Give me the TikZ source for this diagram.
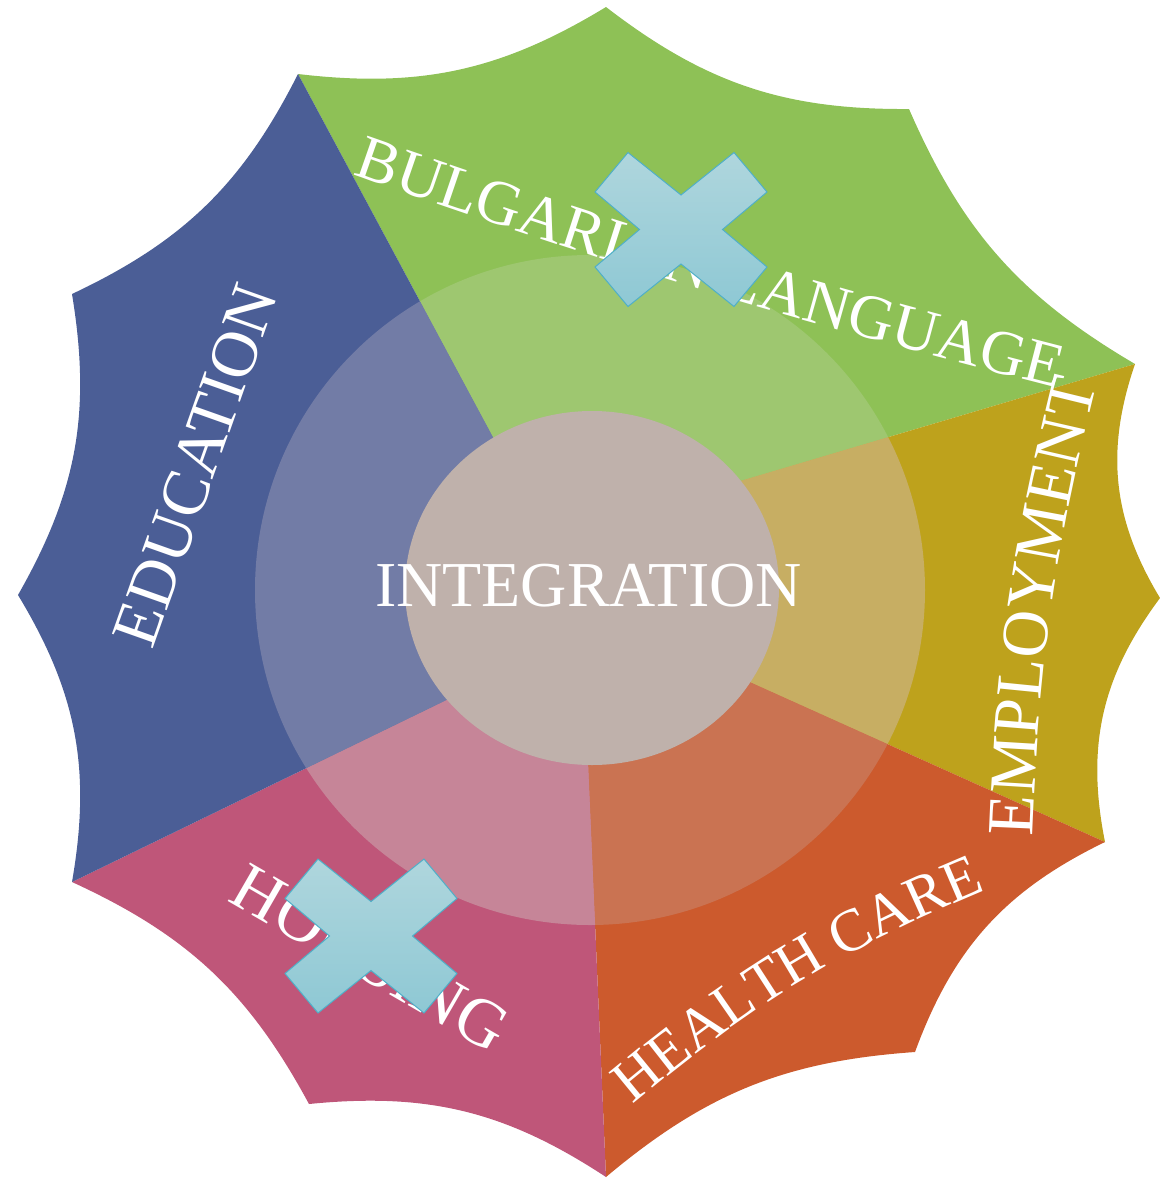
\documentclass[tikz,border=0pt]{standalone}
\usepackage{fontspec}
\setmainfont{Liberation Serif}
\usetikzlibrary{decorations.text}

\definecolor{blueO}{HTML}{4B5E96}
\definecolor{blueR}{HTML}{727CA6}
\definecolor{greenO}{HTML}{8EC156}
\definecolor{greenR}{HTML}{9EC770}
\definecolor{oliveO}{HTML}{BEA21C}
\definecolor{oliveR}{HTML}{C7AE63}
\definecolor{orangeO}{HTML}{CC5A2D}
\definecolor{orangeR}{HTML}{CA7352}
\definecolor{pinkO}{HTML}{BF5679}
\definecolor{pinkR}{HTML}{C68598}
\definecolor{hubC}{HTML}{BFB1AB}
\definecolor{xTop}{HTML}{AFD6DD}
\definecolor{xBot}{HTML}{8EC8D4}
\definecolor{xLine}{HTML}{4FAFC8}

\newcommand\fEdu{\fontsize{66}{66}\selectfont}
\newcommand\fHou{\fontsize{68}{68}\selectfont}
\newcommand\fInt{\fontsize{64}{64}\selectfont}
\newcommand\fBul{\fontsize{63}{63}\selectfont}
\newcommand\fEmp{\fontsize{66}{66}\selectfont}
\newcommand\fHea{\fontsize{60}{60}\selectfont}

\newcommand\sectorGreen[1]{\fill[#1] (H11) -- (T11) to[bend right=19] (T0) to[bend right=19] (T1) to[bend right=18] (T2) -- (H2) -- (C) -- cycle;}
\newcommand\sectorOlive[1]{\fill[#1] (H2) -- (T2) to[bend right=25] (T3) to[bend right=24] (T4) -- (H4) -- (C) -- cycle;}
\newcommand\sectorOrange[1]{\fill[#1] (H4) -- (T4) to[bend right=22] (T5) to[bend right=18] (T6) -- (H6) -- (C) -- cycle;}
\newcommand\sectorPink[1]{\fill[#1] (H6) -- (T6) to[bend right=19.5] (T7) to[bend right=18.5] (T8) -- (H8) -- (C) -- cycle;}
\newcommand\sectorBlue[1]{\fill[#1] (H8) -- (T8) to[bend right=20.5] (T9) to[bend right=19.5] (T10) to[bend right=19] (T11) -- (H11) -- (C) -- cycle;}

\tikzset{
  lbl/.style={text=white, inner sep=0pt},
  xmark/.style={draw=xLine, line width=1pt, top color=xTop, bottom color=xBot},
  xcross/.pic={\path[xmark] (-53,77) -- (0,34.5) -- (53,77) -- (86,37.5) -- (41.5,0) -- (86,-37.5) -- (53,-77) -- (0,-34.5) -- (-53,-77) -- (-86,-37.5) -- (-41.5,0) -- (-86,37.5) -- cycle;}
}

\begin{document}
\begin{tikzpicture}[x=1pt,y=1pt]
\useasboundingbox (0,0) rectangle (1160,-1179);
% star tips
\coordinate (T0) at (606,-7);
\coordinate (T1) at (909,-109);
\coordinate (T2) at (1135,-364);
\coordinate (T3) at (1160,-598);
\coordinate (T4) at (1105,-842);
\coordinate (T5) at (915,-1052);
\coordinate (T6) at (606,-1177);
\coordinate (T7) at (309,-1104);
\coordinate (T8) at (72,-882);
\coordinate (T9) at (18,-595);
\coordinate (T10) at (72,-294);
\coordinate (T11) at (298,-74);
% hubs of the sector borders (hidden by the centre)
\coordinate (H11) at (561,-564);
\coordinate (H2) at (602,-522);
\coordinate (H4) at (614,-621);
\coordinate (H6) at (581,-600);
\coordinate (H8) at (574,-638);
\coordinate (C) at (592,-588);

% outer sectors
\sectorGreen{greenO}
\sectorOlive{oliveO}
\sectorOrange{orangeO}
\sectorPink{pinkO}
\sectorBlue{blueO}

% lighter ring
\begin{scope}
  \clip (590,-590) circle[radius=335];
  \sectorGreen{greenR}
  \sectorOlive{oliveR}
  \sectorOrange{orangeR}
  \sectorPink{pinkR}
  \sectorBlue{blueR}
\end{scope}

% centre
\fill[hubC] (592,-588) ellipse[x radius=187, y radius=177];
\node[lbl, font=\fInt] (integ) at (588.5,-586) {INTEGRATION};

% labels
\node[lbl, font=\fEdu, rotate=70.5] (edu) at (195.5,-465) {EDUCATION};
\node[lbl, font=\fHou, rotate=-30] (hou) at (370.5,-958) {HOUSING};
\path[decorate, decoration={text along path, text align=center, text color=white,
  text={|\fBul|BULGARIAN LANGUAGE}}] (334,-168) to[bend right=2.5] (1076,-393);
\path[decorate, decoration={text along path, text align=center, text color=white,
  text={|\fEmp|EMPLOYMENT}}] (1032,-848) to[bend left=6] (1100,-372);
\path[decorate, decoration={text along path, text align=center, text color=white,
  text={|\fHea|HEALTH CARE}}] (617,-1118) to[bend left=9] (1005,-882);

% crosses
\pic at (681,-229.5) {xcross};
\pic at (371,-936) {xcross};
\end{tikzpicture}
\end{document}
